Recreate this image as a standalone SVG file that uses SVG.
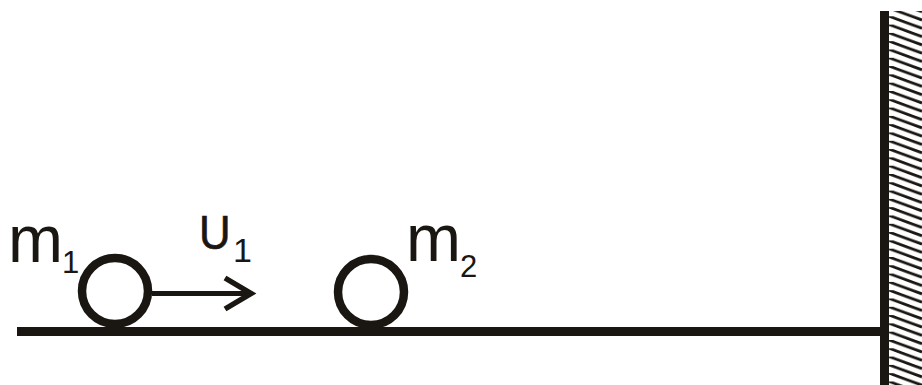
<svg xmlns="http://www.w3.org/2000/svg" width="922" height="385" viewBox="0 0 922 385">
<defs>
<style>
.thick{stroke:#1a1612;fill:none}
.hatch{stroke:#1a1612;stroke-width:2.8}
.lbl{font-family:"Liberation Sans",Arial,sans-serif;fill:#1a1612}
</style>
<pattern id="hp" x="889" y="8" width="40" height="8.3" patternUnits="userSpaceOnUse">
<line class="hatch" x1="0" y1="0" x2="33" y2="12"/>
<line class="hatch" x1="0" y1="-8.3" x2="33" y2="3.7"/>
<line class="hatch" x1="0" y1="-16.6" x2="33" y2="-4.6"/>
</pattern>
</defs>
<rect width="922" height="385" fill="#fff"/>
<g id="wall">
<rect x="889" y="11" width="33" height="374" fill="url(#hp)"/>
<line class="thick" x1="884.5" y1="11" x2="884.5" y2="385" stroke-width="9"/>
</g>
<g id="ground">
<line class="thick" x1="17" y1="331.5" x2="884" y2="331.5" stroke-width="9"/>
</g>
<g id="ball1">
<circle class="thick" cx="115" cy="291" r="33" stroke-width="8.5"/>
<text class="lbl" x="8" y="262" font-size="66">m</text>
<text class="lbl" x="62" y="273" font-size="31">1</text>
</g>
<g id="ball2">
<circle class="thick" cx="371" cy="292" r="33" stroke-width="8.5"/>
<text class="lbl" x="406" y="261" font-size="66">m</text>
<text class="lbl" x="460" y="277" font-size="31">2</text>
</g>
<g id="connectors">
<line class="thick" x1="152" y1="293.5" x2="250" y2="293.5" stroke-width="5"/>
<polyline class="thick" points="225,278 251,293.5 225,309" stroke-width="5.5"/>
</g>
<g id="velocity">
<text class="lbl" x="199" y="249" font-size="35" transform="translate(199 249) scale(1.25 1.35) translate(-199 -249)" stroke="#1a1612" stroke-width="0.5">U</text>
<text class="lbl" x="233" y="262" font-size="34">1</text>
</g>
</svg>
